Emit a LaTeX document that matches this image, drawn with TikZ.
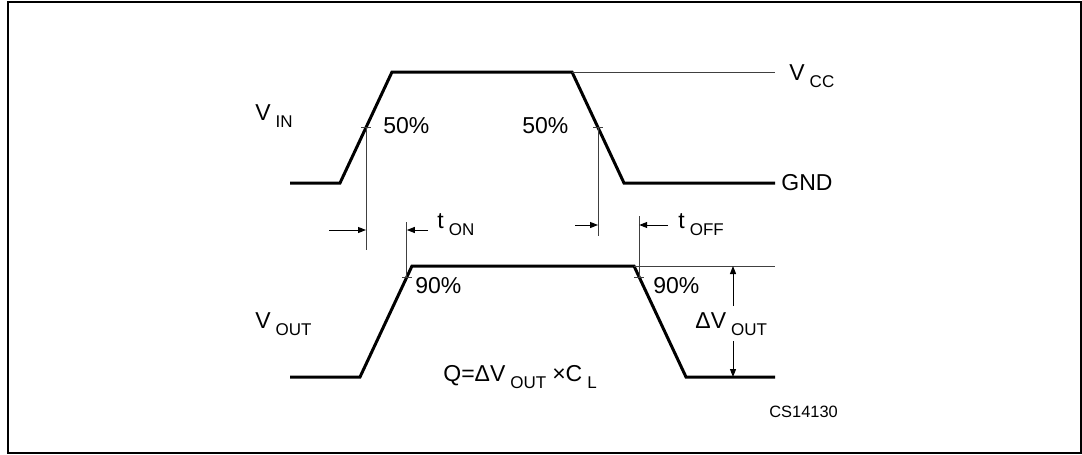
\documentclass[tikz,border=0pt]{standalone}
\usepackage{fontspec}
\setmainfont{Liberation Sans}
\usetikzlibrary{arrows.meta,calc}

\newcommand\lsub[1]{\hspace{2.5pt}\raisebox{-3.5pt}{\fontsize{8.5}{10}\selectfont #1}}

\begin{document}
\begin{tikzpicture}[x=0.5pt,y=-0.5pt,
    wave/.style={line width=1.5pt,line join=miter},
    thin/.style={line width=0.5pt,black!75},
    dimarrow/.style={line width=0.5pt,-{Triangle[length=4pt,width=3pt]}},
    lbl/.style={anchor=base west,inner sep=0pt,font=\fontsize{11.5}{13}\selectfont}]
  \useasboundingbox (0,0) rectangle (1082,455);
  \draw[line width=1pt] (7.5,1.5) rectangle (1080.5,453);

  % levels and edges
  \def\inhi{72}
  \def\inlo{183}
  \def\outhi{266}
  \def\outlo{377}

  % input waveform
  \coordinate (in0) at (290,\inlo);
  \coordinate (in1) at (340,\inlo);
  \coordinate (in2) at (392,\inhi);
  \coordinate (in3) at (572,\inhi);
  \coordinate (in4) at (624,\inlo);
  \coordinate (in5) at (775,\inlo);
  \coordinate (vccend) at (775,\inhi);
  \draw[wave] (in0) -- (in1) -- (in2) -- (in3) -- (in4) -- (in5);
  \draw[thin] (in3) -- (vccend);

  % output waveform
  \coordinate (out0) at (290,\outlo);
  \coordinate (out1) at (360,\outlo);
  \coordinate (out2) at (412,\outhi);
  \coordinate (out3) at (634,\outhi);
  \coordinate (out4) at (686,\outlo);
  \coordinate (out5) at (775,\outlo);
  \coordinate (outhiend) at (775,\outhi);
  \draw[wave] (out0) -- (out1) -- (out2) -- (out3) -- (out4) -- (out5);
  \draw[thin] (out3) -- (outhiend);

  % 50% and 90% points
  \coordinate (rise50) at ($(in1)!0.5!(in2)$);
  \coordinate (fall50) at ($(in3)!0.5!(in4)$);
  \coordinate (rise90) at ($(out1)!0.9!(out2)$);
  \coordinate (fall90) at ($(out3)!0.1!(out4)$);
  \foreach \p in {rise50,fall50,rise90,fall90}
    \draw[thin] ([xshift=-2.5pt]\p) -- ([xshift=2.5pt]\p);

  \coordinate (rise50b) at (rise50 |- 0,250);
  \coordinate (fall50b) at (fall50 |- 0,236);
  \coordinate (rise90t) at (rise90 |- 0,222);
  \coordinate (fall90t) at (fall90 |- 0,216);
  \draw[thin] (rise50) -- (rise50b);
  \draw[thin] (fall50) -- (fall50b);
  \draw[thin] (rise90) -- (rise90t);
  \draw[thin] (fall90) -- (fall90t);

  % timing arrows
  \coordinate (ona) at (329,230);
  \coordinate (onb) at (428,230);
  \coordinate (offa) at (575,225);
  \coordinate (offb) at (668,225);
  \draw[dimarrow] (ona) -- (rise50 |- ona);
  \draw[dimarrow] (onb) -- (rise90 |- onb);
  \draw[dimarrow] (offa) -- (fall50 |- offa);
  \draw[dimarrow] (offb) -- (fall90 |- offb);

  % labels
  \node[lbl] (vin) at (255,120) {V\lsub{IN}};
  \node[lbl] (vout) at (255,328) {V\lsub{OUT}};
  \node[lbl] (vcc) at (789,80) {V\lsub{CC}};
  \node[lbl] (gnd) at (781,190) {GND};
  \node[lbl] (p50a) at (383,133) {50\%};
  \node[lbl] (p50b) at (522,133) {50\%};
  \node[lbl] (p90a) at (415,293) {90\%};
  \node[lbl] (p90b) at (653,293) {90\%};
  \node[lbl] (ton) at (437,228) {t\lsub{ON}};
  \node[lbl] (toff) at (678,228) {t\lsub{OFF}};
  \node[lbl,outer ysep=3pt] (dvout) at (695,328) {ΔV\lsub{OUT}};
  \node[lbl] (charge) at (443,381) {Q=ΔV\lsub{OUT}\hspace{3pt}×C\lsub{L}};
  \node[anchor=base west,inner sep=0pt,font=\fontsize{8.2}{10}\selectfont] (code) at (769,417) {CS14130};

  % delta V arrow, broken by its label
  \coordinate (dvt) at (733,\outhi);
  \coordinate (dvb) at (733,\outlo);
  \draw[dimarrow] (dvout.north -| dvt) -- (dvt);
  \draw[dimarrow] (dvout.south -| dvb) -- (dvb);
\end{tikzpicture}
\end{document}
